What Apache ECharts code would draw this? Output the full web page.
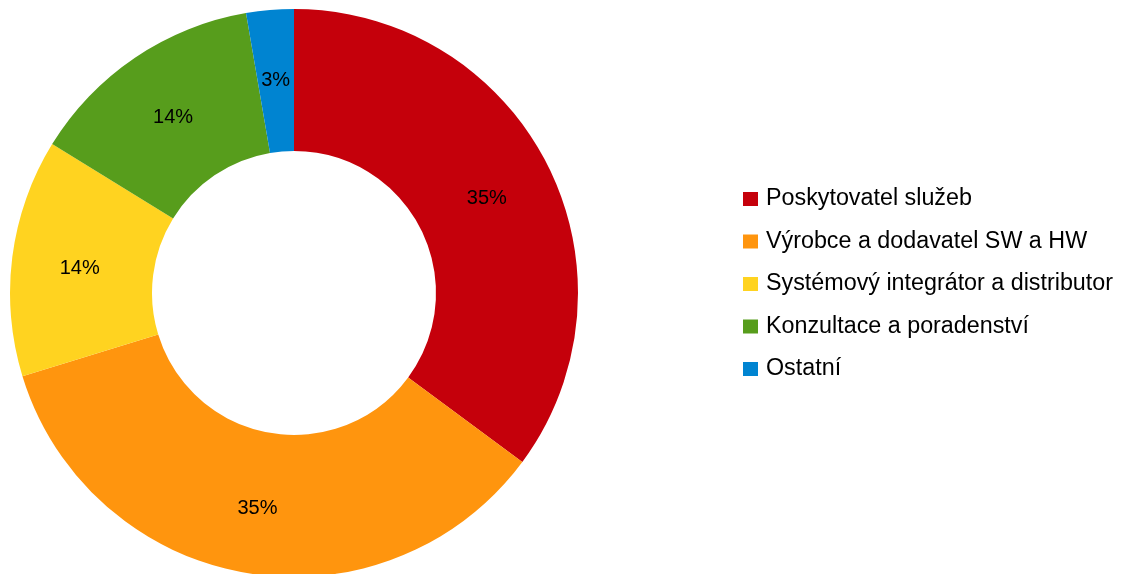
<!DOCTYPE html>
<html>
<head>
<meta charset="utf-8">
<script src="https://cdn.jsdelivr.net/npm/echarts@6/dist/echarts.min.js"></script>
<style>
html,body{margin:0;padding:0;background:#fff;}
#chart{width:1121px;height:574px;}
</style>
</head>
<body>
<div id="chart"></div>
<script>
const categories = ["Poskytovatel služeb", "Výrobce a dodavatel SW a HW", "Systémový integrátor a distributor", "Konzultace a poradenství", "Ostatní"];
const values = [13, 13, 5, 5, 1];
const colors = ["#C5000B", "#FF950E", "#FFD320", "#579D1C", "#0084D1"];

const chart = echarts.init(document.getElementById('chart'), null, {renderer: 'canvas'});
chart.setOption({
  animation: false,
  backgroundColor: '#ffffff',
  color: colors,
  legend: {
    orient: 'vertical',
    left: 743,
    top: 187.5,
    padding: 0,
    itemWidth: 15,
    itemHeight: 14,
    itemGap: 19.5,
    icon: 'rect',
    textStyle: {fontFamily: 'Liberation Sans, Arial, sans-serif', fontSize: 23.3, color: '#000', padding: [0,0,0,3]},
    data: categories
  },
  series: [{
    type: 'pie',
    center: [294, 293],
    radius: [142, 284],
    startAngle: 90,
    clockwise: true,
    avoidLabelOverlap: false,
    label: {
      show: true,
      position: 'inside',
      fontFamily: 'Liberation Sans, Arial, sans-serif',
      fontSize: 20,
      color: '#000',
      offset: [0, 3],
      formatter: p => Math.round(p.percent) + '%'
    },
    labelLine: {show: false},
    itemStyle: {borderWidth: 0},
    emphasis: {disabled: true},
    data: categories.map((c, i) => ({name: c, value: values[i]}))
  }]
});
</script>
</body>
</html>
